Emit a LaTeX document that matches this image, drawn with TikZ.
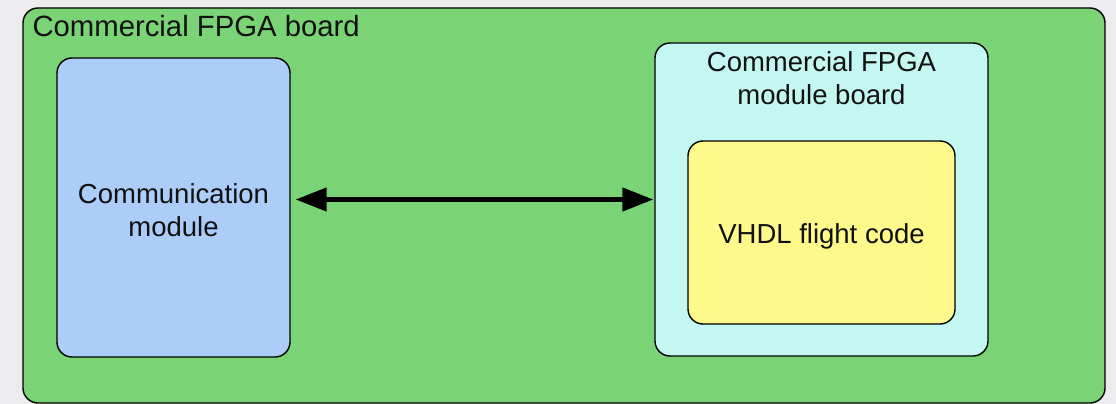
\documentclass[tikz,border=0pt]{standalone}
\usepackage{fontspec}
\setmainfont{Liberation Sans}
\usetikzlibrary{arrows.meta,positioning,calc}
\definecolor{canvas}{RGB}{236,236,238}
\definecolor{boardgreen}{RGB}{122,212,117}
\definecolor{commblue}{RGB}{171,205,247}
\definecolor{modcyan}{RGB}{197,247,242}
\definecolor{codeyellow}{RGB}{255,249,139}
\definecolor{ink}{RGB}{17,17,17}

\tikzset{
  box/.style={draw=black,line width=1.4pt,rounded corners=15pt,inner sep=0pt},
  lbl/.style={text=ink,font=\fontsize{27.5}{33}\selectfont,align=center,inner sep=0pt},
  link/.style={line width=4.5pt,{Triangle[length=31pt,width=23pt]}-{Triangle[length=31pt,width=23pt]}}
}

\begin{document}
\begin{tikzpicture}[x=1pt,y=-1pt]
    \fill[canvas] (0,0) rectangle (1116,404);
    \useasboundingbox (0,0) rectangle (1116,404);
    % outer board
    \node[box,fill=boardgreen,minimum width=1082pt,minimum height=395pt] (board) at (564,205.5) {};
    \node[lbl,font=\fontsize{29.3}{33}\selectfont,anchor=base west] (boardlbl) at ([xshift=10pt,yshift=-29pt]board.north west) {Commercial FPGA board};
    % communication side
    \node[box,fill=commblue,minimum width=233pt,minimum height=299pt] (comm) at (173.5,207.5) {};
    \node[lbl] (commlbl) at ([yshift=-2.5pt]comm.center) {Communication\\module};
    % module board with the flight code inside
    \node[box,fill=modcyan,minimum width=333pt,minimum height=313pt] (module) at (821.5,199.5) {};
    \node[lbl,below=9pt of module.north] (modlbl) {Commercial FPGA\\module board};
    \node[box,fill=codeyellow,minimum width=267pt,minimum height=183pt] (code) at (821.5,232.5) {};
    \node[lbl] (codelbl) at ([yshift=-4pt]code.center) {VHDL flight code};
    % link between the two
    \draw[link] ([xshift=5pt]comm.east |- module.west) -- ([xshift=-1pt]module.west);
\end{tikzpicture}
\end{document}
